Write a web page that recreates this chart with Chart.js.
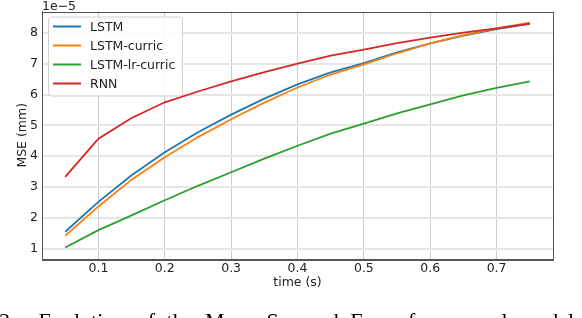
<!DOCTYPE html>
<html>
<head>
<meta charset="utf-8">
<script src="https://cdn.jsdelivr.net/npm/chart.js@4"></script>
<style>
html,body{margin:0;padding:0;background:#fff;width:582px;height:318px;overflow:hidden;position:relative;}
#wrap{position:absolute;left:0;top:0;width:582px;height:318px;}
#caption{position:absolute;left:-1px;top:308px;white-space:nowrap;font-family:"Liberation Serif",serif;font-size:22px;word-spacing:6px;color:#000;}
</style>
</head>
<body>
<div id="wrap"><canvas id="c" width="582" height="318"></canvas></div>
<div id="caption">2.&nbsp; Evolution of the Mean Squared Error for several models and horizons of</div>
<script>
// data (MSE in units of 1e-5 mm)
const timeValues = [0.05,0.10,0.15,0.20,0.25,0.30,0.35,0.40,0.45,0.50,0.55,0.60,0.65,0.70,0.75];
const seriesNames = ["LSTM","LSTM-curric","LSTM-lr-curric","RNN"];
const lstm        = [1.55,2.52,3.38,4.13,4.78,5.35,5.87,6.33,6.72,7.02,7.37,7.66,7.91,8.12,8.29];
const lstmCurric  = [1.42,2.37,3.24,3.97,4.62,5.20,5.74,6.23,6.65,6.98,7.34,7.66,7.93,8.15,8.33];
const lstmLrCurric= [1.04,1.60,2.08,2.57,3.04,3.48,3.92,4.34,4.73,5.06,5.39,5.68,5.97,6.22,6.43];
const rnn         = [3.33,4.57,5.24,5.75,6.10,6.43,6.73,7.00,7.26,7.46,7.67,7.85,8.01,8.15,8.30];
const xTicks = [0.1,0.2,0.3,0.4,0.5,0.6,0.7];
const yTicks = [1,2,3,4,5,6,7,8];

const colors = ["#1f77b4","#ff7f0e","#2ca02c","#d62728"];
const allSeries = [lstm,lstmCurric,lstmLrCurric,rnn];
const FONT = "DejaVu Sans";

const datasets = allSeries.map((s,i)=>({
  label: seriesNames[i],
  data: s.map((v,j)=>({x:timeValues[j], y:v})),
  borderColor: colors[i],
  backgroundColor: colors[i],
  borderWidth: 1.8,
  pointRadius: 0,
  tension: 0,
  fill: false,
  order: 3 - i
}));

const overlay = {
  id: 'overlay',
  afterDatasetsDraw(chart){
    const ctx = chart.ctx, a = chart.chartArea;
    ctx.save();
    // spines
    ctx.strokeStyle = '#555';
    ctx.lineWidth = 1;
    ctx.strokeRect(Math.round(a.left)+0.5, Math.round(a.top)+0.5, Math.round(a.right-a.left), Math.round(a.bottom-a.top));
    // offset label
    ctx.fillStyle = '#222';
    ctx.font = '12.5px "' + FONT + '"';
    ctx.textAlign = 'left';
    ctx.textBaseline = 'alphabetic';
    ctx.fillText('1e\u22125', a.left, a.top - 2);
    // legend
    const lx = a.left + 6, ly = a.top + 5, lw = 134, lh = 79;
    ctx.beginPath();
    if (ctx.roundRect) ctx.roundRect(lx+0.5, ly+0.5, lw, lh, 3); else ctx.rect(lx+0.5, ly+0.5, lw, lh);
    ctx.fillStyle = 'rgba(255,255,255,0.85)';
    ctx.fill();
    ctx.strokeStyle = '#d0d0d0';
    ctx.stroke();
    chart.data.datasets.forEach((d,i)=>{
      const y = ly + 10 + i*19;
      ctx.strokeStyle = d.borderColor;
      ctx.lineWidth = 2;
      ctx.beginPath();
      ctx.moveTo(lx+5, y); ctx.lineTo(lx+33, y);
      ctx.stroke();
      ctx.fillStyle = '#222';
      ctx.textBaseline = 'middle';
      ctx.fillText(d.label, lx+42, y+1);
    });
    ctx.restore();
  }
};

new Chart(document.getElementById('c'), {
  type: 'line',
  data: { datasets },
  plugins: [overlay],
  options: {
    responsive: false,
    animation: false,
    devicePixelRatio: 1,
    layout: { padding: { left: 0, right: 29, top: 11, bottom: 0 } },
    plugins: { legend: { display: false }, tooltip: { enabled: false } },
    scales: {
      x: {
        type: 'linear',
        min: 0.015, max: 0.785,
        afterBuildTicks(scale){ scale.ticks = xTicks.map(v=>({value:v})); },
        afterFit(scale){ scale.height = 59; },
        ticks: { color: '#222', font: { family: FONT, size: 12.5 }, padding: 2,
                 maxRotation: 0, autoSkip: false,
                 callback: v => Number(v).toFixed(1) },
        grid: { color: '#cccccc', lineWidth: 1, drawTicks: false },
        border: { display: true, color: '#555', width: 1 },
        title: { display: true, text: 'time (s)', color: '#222',
                 font: { family: FONT, size: 12.5 }, padding: { top: 0, bottom: 28 } }
      },
      y: {
        type: 'linear',
        min: 0.665, max: 8.695,
        afterBuildTicks(scale){ scale.ticks = yTicks.map(v=>({value:v})); },
        afterFit(scale){ scale.width = 42; },
        ticks: { color: '#222', font: { family: FONT, size: 12.5 }, padding: 4,
                 autoSkip: false, callback: v => String(v) },
        grid: { color: '#e6e6e6', lineWidth: 2, drawTicks: false },
        border: { display: true, color: '#555', width: 1 },
        title: { display: true, text: 'MSE (mm)', color: '#222',
                 font: { family: FONT, size: 12.5 }, padding: { top: 15, bottom: 0 } }
      }
    }
  }
});
</script>
</body>
</html>
